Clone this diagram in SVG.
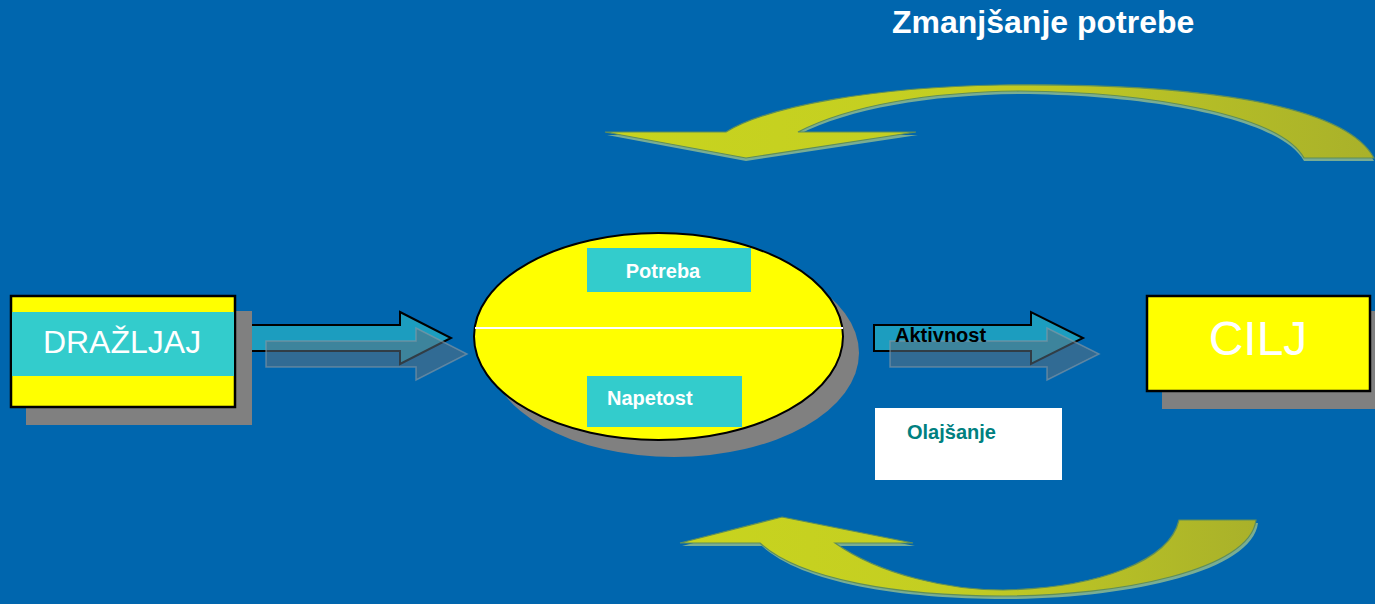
<svg xmlns="http://www.w3.org/2000/svg" width="1375" height="604" viewBox="0 0 1375 604">
<defs>
<style>
.shadow{fill:#808080}
.yb{fill:#FFFF00;stroke:#000;stroke-width:2.5}
.cy{fill:#33CCCC}
.arr{fill:#1C9DBF;stroke:#000;stroke-width:2}
.arrs{fill:#5A6F80;fill-opacity:0.55;stroke:#8A9AA5;stroke-opacity:0.6;stroke-width:1.5}
.lbl{font-family:"Liberation Sans",Arial,sans-serif;font-weight:bold}
.curve{stroke:#5E8E5A;stroke-width:1.2}
.curvesh{fill:#86B590;opacity:0.9}
</style>
<linearGradient id="gTop" x1="605" y1="0" x2="1374" y2="0" gradientUnits="userSpaceOnUse">
<stop offset="0" stop-color="#C8D41E"/><stop offset="0.45" stop-color="#C4CE22"/><stop offset="1" stop-color="#A9B12A"/>
</linearGradient>
<linearGradient id="gBot" x1="680" y1="0" x2="1256" y2="0" gradientUnits="userSpaceOnUse">
<stop offset="0" stop-color="#C8D41E"/><stop offset="0.45" stop-color="#C4CE22"/><stop offset="1" stop-color="#A9B12A"/>
</linearGradient>
</defs>
<rect width="1375" height="604" fill="#0066AE"/>

<g id="title">
<text class="lbl" x="892" y="33" font-size="32" fill="#FFFFFF">Zmanjšanje potrebe</text>
</g>

<g id="connectors">
<g id="curve-top">
<path class="curvesh" d="M 1374,161 C 1340,98 1150,86 1000,88 C 880,90 770,108 726,135 L 607,135 L 746,161 L 918,135 L 798,135 C 850,108 930,95 1020,94 C 1150,95 1280,118 1304,161 Z"/>
<path class="curve" fill="url(#gTop)" d="M 1374,158 C 1340,95 1150,83 1000,85 C 880,87 770,105 726,132 L 605,132 L 746,158 L 916,132 L 798,132 C 850,105 930,92 1020,91 C 1150,92 1280,115 1304,158 Z"/>
</g>
<g id="curve-bottom">
<path class="curvesh" d="M 782,520 L 915,546 L 837,546 C 882,578 952,593 1005,593 C 1102,591 1172,563 1181,523 L 1258,523 C 1252,573 1122,599 1005,599 C 902,599 802,583 762,546 L 682,546 Z"/>
<path class="curve" fill="url(#gBot)" d="M 782,517 L 913,543 L 835,543 C 880,575 950,590 1003,590 C 1100,588 1170,560 1179,520 L 1256,520 C 1250,570 1120,596 1003,596 C 900,596 800,580 760,543 L 680,543 Z"/>
</g>
<g id="arrow-1">
<path class="arr" d="M 250,325 L 400,325 L 400,312 L 451,338 L 400,364 L 400,351 L 250,351 Z"/>
<path class="arrs" d="M 266,341 L 416,341 L 416,328 L 467,354 L 416,380 L 416,367 L 266,367 Z"/>
</g>
<g id="arrow-2">
<path class="arr" d="M 874,325 L 1031,325 L 1031,312 L 1083,338 L 1031,364 L 1031,351 L 874,351 Z"/>
<path class="arrs" d="M 890,341 L 1047,341 L 1047,328 L 1099,354 L 1047,380 L 1047,367 L 890,367 Z"/>
<text class="lbl" x="895" y="342" font-size="20" fill="#000000">Aktivnost</text>
</g>
</g>

<g id="node-drazljaj">
<rect class="shadow" x="26" y="311" width="226" height="114"/>
<rect class="yb" x="11" y="296" width="224" height="111"/>
<rect class="cy" x="12" y="312" width="222" height="64"/>
<text x="122" y="353" font-family="'Liberation Sans',Arial,sans-serif" font-size="32" fill="#FFFFFF" text-anchor="middle">DRAŽLJAJ</text>
</g>

<g id="node-ellipse">
<ellipse class="shadow" cx="674" cy="353" rx="185" ry="104"/>
<ellipse fill="#FFFF00" stroke="#000" stroke-width="2" cx="658.5" cy="336.5" rx="184.5" ry="103.5"/>
<line x1="475" y1="328" x2="843" y2="328" stroke="#FFFFFF" stroke-width="2"/>
</g>

<g id="node-potreba">
<rect class="cy" x="587" y="248" width="164" height="44"/>
<text class="lbl" x="663" y="278" font-size="20" fill="#FFFFFF" text-anchor="middle">Potreba</text>
</g>

<g id="node-napetost">
<rect class="cy" x="587" y="376" width="155" height="51"/>
<text class="lbl" x="607" y="405" font-size="20" fill="#FFFFFF">Napetost</text>
</g>

<g id="node-olajsanje">
<rect fill="#FFFFFF" x="875" y="408" width="187" height="72"/>
<text class="lbl" x="907" y="439" font-size="20" fill="#008080">Olajšanje</text>
</g>

<g id="node-cilj">
<rect class="shadow" x="1162" y="311" width="213" height="98"/>
<rect class="yb" x="1147" y="296" width="223" height="95"/>
<text x="1258" y="355" font-family="'Liberation Sans',Arial,sans-serif" font-size="48" fill="#FFFFFF" text-anchor="middle">CILJ</text>
</g>
</svg>
